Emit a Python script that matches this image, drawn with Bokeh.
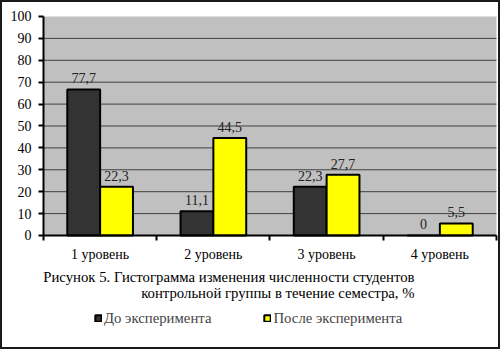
from bokeh.plotting import figure
from bokeh.models import (ColumnDataSource, FixedTicker, Range1d, Legend, LegendItem,
                          LabelSet, Label, LinearAxis, BoxAnnotation)
from bokeh.embed import file_html
from bokeh.resources import INLINE

categories = ["1 уровень", "2 уровень", "3 уровень", "4 уровень"]
before_values = [66.7, 11.1, 22.3, 0.0]
after_values = [22.3, 44.5, 27.7, 5.5]
before_labels = ["77,7", "11,1", "22,3", "0"]
after_labels = ["22,3", "44,5", "27,7", "5,5"]
series_names = ["До эксперимента", "После эксперимента"]
y_ticks = [0, 10, 20, 30, 40, 50, 60, 70, 80, 90, 100]
caption_lines = ["Рисунок 5. Гистограмма изменения численности студентов",
                 "контрольной группы в течение семестра, %"]

FONT = "Liberation Serif"
BW = 0.29
n = len(categories)
centers = [i + 0.5 for i in range(n)]
y_max = y_ticks[-1]

src_b = ColumnDataSource(dict(x=[c - BW / 2 for c in centers], top=before_values, lab=before_labels))
src_a = ColumnDataSource(dict(x=[c + BW / 2 for c in centers], top=after_values, lab=after_labels))
grid_src = ColumnDataSource(dict(y=y_ticks[1:-1]))

# frame fills the whole canvas; plot area is 0..4 x 0..100 placed by the ranges
p = figure(width=500, height=349, output_backend="svg", toolbar_location=None,
           x_range=Range1d(-0.362, 4.053), y_range=Range1d(-52.97, 106.39),
           x_axis_location=None, y_axis_location=None,
           min_border_left=0, min_border_right=0, min_border_top=0, min_border_bottom=0)
p.styles = {"border": "2px solid #1a1a1a"}
p.background_fill_color = "white"
p.border_fill_color = "white"
p.outline_line_color = None
p.grid.visible = False

p.add_layout(BoxAnnotation(left=0, right=n, bottom=0, top=y_max, fill_color="#c0c0c0",
                           fill_alpha=1, line_color=None, level="underlay"))
p.segment(x0=0, x1=n, y0="y", y1="y", source=grid_src, line_color="#404040", line_width=1)

rb = p.vbar(x="x", top="top", width=BW, source=src_b, fill_color="#333333",
            line_color="black", line_width=2)
ra = p.vbar(x="x", top="top", width=BW, source=src_a, fill_color="#ffff00",
            line_color="black", line_width=2)

for src in (src_b, src_a):
    p.add_layout(LabelSet(x="x", y="top", text="lab", source=src, text_align="center",
                          text_baseline="bottom", y_offset=6, text_font=FONT,
                          text_font_size="14px", text_color="#222222"))

xaxis = LinearAxis(fixed_location=0, bounds=(0, n),
                   ticker=FixedTicker(ticks=centers, minor_ticks=list(range(n + 1))),
                   major_label_overrides={c: name for c, name in zip(centers, categories)})
xaxis.major_tick_out = 0
xaxis.major_tick_in = 0
xaxis.minor_tick_out = 5
xaxis.minor_tick_in = 0
xaxis.minor_tick_line_width = 2
xaxis.minor_tick_line_color = "black"
xaxis.major_label_standoff = 7
yaxis = LinearAxis(fixed_location=0, bounds=(0, y_max), ticker=FixedTicker(ticks=y_ticks))
yaxis.major_tick_out = 5
yaxis.major_tick_in = 0
yaxis.minor_tick_out = 0
yaxis.minor_tick_in = 0
yaxis.major_label_standoff = 7
for ax in (xaxis, yaxis):
    ax.axis_line_width = 2
    ax.axis_line_color = "black"
    ax.major_tick_line_width = 2
    ax.major_tick_line_color = "black"
    ax.major_label_text_font = FONT
    ax.major_label_text_font_size = "14px"
    ax.major_label_text_color = "black"
p.add_layout(xaxis, "below")
p.add_layout(yaxis, "left")

# caption (screen units measured from the frame's bottom-left)
for line, yy in zip(caption_lines, [75, 59]):
    p.add_layout(Label(x=412, y=yy, x_units="screen", y_units="screen", text=line,
                       text_align="right", text_baseline="middle", text_font=FONT,
                       text_font_size="14.75px", text_color="black"))

legend = Legend(items=[LegendItem(label=series_names[0], renderers=[rb]),
                       LegendItem(label=series_names[1], renderers=[ra])],
                orientation="horizontal", location=(92, 23), padding=0, margin=0,
                glyph_width=8, glyph_height=8, label_standoff=2, spacing=52,
                label_text_font=FONT, label_text_font_size="14.75px",
                border_line_alpha=0, background_fill_alpha=0, label_height=20)
p.add_layout(legend, "center")

open("out.html", "w").write(file_html(p, INLINE))
